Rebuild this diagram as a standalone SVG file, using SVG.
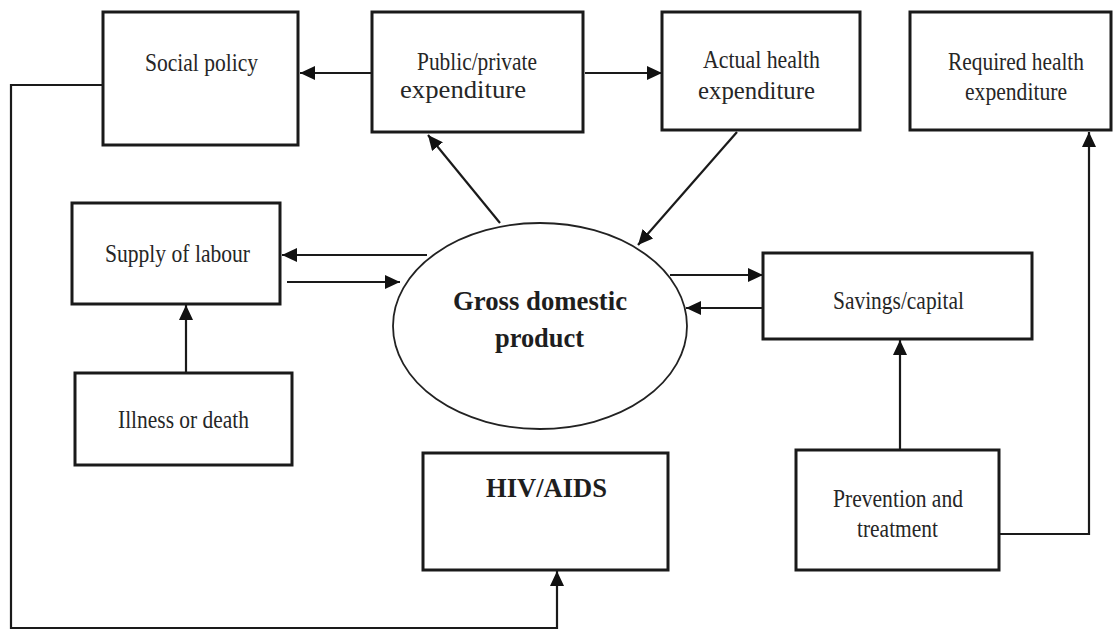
<svg xmlns="http://www.w3.org/2000/svg" width="1113" height="631" viewBox="0 0 1113 631">
<style>
.box{fill:#fff;stroke:#1a1a1a;stroke-width:3}
.ell{fill:#fff;stroke:#222;stroke-width:1.8}
.t{font-family:"Liberation Serif","Times New Roman",serif;font-size:25px;fill:#262626}
.b{font-family:"Liberation Serif","Times New Roman",serif;font-size:28px;font-weight:bold;fill:#1e1e1e}
.c{fill:none;stroke:#1a1a1a;stroke-width:2.2}
</style>
<defs>
<marker id="ah" markerUnits="userSpaceOnUse" markerWidth="16" markerHeight="14" refX="15" refY="7" orient="auto">
<path d="M0,0 L15,7 L0,14 Z" fill="#111"/>
</marker>
</defs>
<rect width="1113" height="631" fill="#fff"/>
<g id="connectors">
<line class="c" x1="372" y1="73" x2="300" y2="73" marker-end="url(#ah)"/>
<line class="c" x1="585" y1="73" x2="662" y2="73" marker-end="url(#ah)"/>
<line class="c" x1="500" y1="223" x2="428" y2="135" marker-end="url(#ah)"/>
<line class="c" x1="737" y1="132" x2="638" y2="245" marker-end="url(#ah)"/>
<line class="c" x1="427" y1="255" x2="282" y2="255" marker-end="url(#ah)"/>
<line class="c" x1="287" y1="282" x2="400" y2="282" marker-end="url(#ah)"/>
<line class="c" x1="186" y1="373" x2="186" y2="305" marker-end="url(#ah)"/>
<line class="c" x1="670" y1="275" x2="763" y2="275" marker-end="url(#ah)"/>
<line class="c" x1="763" y1="308" x2="686" y2="308" marker-end="url(#ah)"/>
<line class="c" x1="900" y1="450" x2="900" y2="340" marker-end="url(#ah)"/>
<polyline class="c" points="999,534 1089,534 1089,132" marker-end="url(#ah)"/>
<polyline class="c" points="103,85 11,85 11,628 557,628 557,571" marker-end="url(#ah)"/>
</g>
<g id="social-policy">
<rect class="box" x="103" y="12" width="195" height="133"/>
<text class="t" x="145" y="71" textLength="113" lengthAdjust="spacingAndGlyphs">Social policy</text>
</g>
<g id="public-private">
<rect class="box" x="372" y="12" width="211" height="120"/>
<text class="t" x="417" y="70" textLength="120" lengthAdjust="spacingAndGlyphs">Public/private</text>
<text class="t" x="400" y="98" textLength="126" lengthAdjust="spacingAndGlyphs">expenditure</text>
</g>
<g id="actual-health">
<rect class="box" x="662" y="12" width="198" height="118"/>
<text class="t" x="703" y="68" textLength="117" lengthAdjust="spacingAndGlyphs">Actual health</text>
<text class="t" x="698" y="99" textLength="117" lengthAdjust="spacingAndGlyphs">expenditure</text>
</g>
<g id="required-health">
<rect class="box" x="910" y="12" width="201" height="118"/>
<text class="t" x="948" y="70" textLength="136" lengthAdjust="spacingAndGlyphs">Required health</text>
<text class="t" x="965" y="100" textLength="102" lengthAdjust="spacingAndGlyphs">expenditure</text>
</g>
<g id="supply-of-labour">
<rect class="box" x="72" y="203" width="208" height="101"/>
<text class="t" x="105" y="262" textLength="145" lengthAdjust="spacingAndGlyphs">Supply of labour</text>
</g>
<g id="illness-or-death">
<rect class="box" x="75" y="373" width="217" height="92"/>
<text class="t" x="118" y="428" textLength="131" lengthAdjust="spacingAndGlyphs">Illness or death</text>
</g>
<g id="gdp">
<ellipse class="ell" cx="540" cy="326" rx="147" ry="103"/>
<text class="b" x="453" y="310" textLength="174" lengthAdjust="spacingAndGlyphs">Gross domestic</text>
<text class="b" x="495" y="347" textLength="89" lengthAdjust="spacingAndGlyphs">product</text>
</g>
<g id="savings-capital">
<rect class="box" x="763" y="253" width="269" height="86"/>
<text class="t" x="833" y="309" textLength="131" lengthAdjust="spacingAndGlyphs">Savings/capital</text>
</g>
<g id="hiv-aids">
<rect class="box" x="423" y="453" width="245" height="117"/>
<text class="b" x="486" y="497" textLength="121" lengthAdjust="spacingAndGlyphs">HIV/AIDS</text>
</g>
<g id="prevention-treatment">
<rect class="box" x="796" y="450" width="203" height="120"/>
<text class="t" x="833" y="507" textLength="130" lengthAdjust="spacingAndGlyphs">Prevention and</text>
<text class="t" x="857" y="537" textLength="81" lengthAdjust="spacingAndGlyphs">treatment</text>
</g>
</svg>
